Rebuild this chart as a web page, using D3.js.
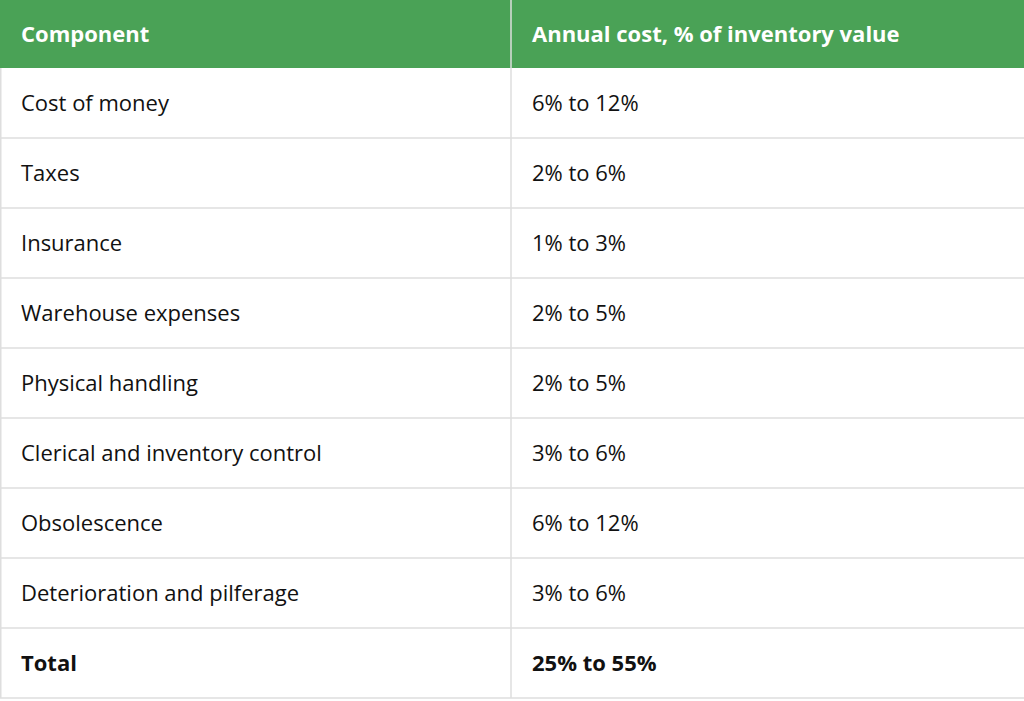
<!DOCTYPE html>
<html>
<head>
<script src="https://d3js.org/d3.v7.min.js"></script>
<style>
  body { margin: 0; background: #fff; }
  text { font-family: "Open Sans", sans-serif; font-size: 22px; fill: #111; }
</style>
</head>
<body>
<svg width="1024" height="701"></svg>
<script>
var headers = ["Component", "Annual cost, % of inventory value"];
var components = ["Cost of money", "Taxes", "Insurance", "Warehouse expenses", "Physical handling",
  "Clerical and inventory control", "Obsolescence", "Deterioration and pilferage", "Total"];
var costs = ["6% to 12%", "2% to 6%", "1% to 3%", "2% to 5%", "2% to 5%",
  "3% to 6%", "6% to 12%", "3% to 6%", "25% to 55%"];

var svg = d3.select("svg"),
  width = 1024, headH = 68, rowH = 70;

var x = d3.scaleOrdinal().domain([0, 1]).range([0, 511]);
var y = d3.scaleLinear().domain([0, 1]).range([headH, headH + rowH]);

svg.append("rect").attr("x", 0).attr("y", 0).attr("width", width).attr("height", headH)
  .attr("fill", "#4aa256");

svg.selectAll(".head").data(headers).enter().append("text")
  .attr("x", function(d, i) { return x(i) + 21; })
  .attr("y", headH / 2 + 8)
  .style("fill", "#fff").style("font-weight", "bold")
  .text(function(d) { return d; });

var rows = svg.selectAll(".row").data(components).enter().append("g")
  .attr("transform", function(d, i) { return "translate(0," + y(i) + ")"; });

rows.append("line").attr("x1", 0).attr("x2", width).attr("y1", rowH).attr("y2", rowH)
  .attr("stroke", "#dedede").attr("stroke-width", 1.5);

rows.append("text").attr("x", 21).attr("y", rowH / 2 + 8)
  .style("font-weight", function(d, i) { return i === components.length - 1 ? "bold" : null; })
  .text(function(d) { return d; });

rows.append("text").attr("x", x(1) + 21).attr("y", rowH / 2 + 8)
  .style("font-weight", function(d, i) { return i === components.length - 1 ? "bold" : null; })
  .text(function(d, i) { return costs[i]; });

// outer and column borders
svg.append("line").attr("x1", x(1)).attr("x2", x(1)).attr("y1", 0).attr("y2", headH + rowH * components.length)
  .attr("stroke", "#dedede").attr("stroke-width", 1.5);
svg.append("line").attr("x1", 0.75).attr("x2", 0.75).attr("y1", headH).attr("y2", headH + rowH * components.length)
  .attr("stroke", "#dedede").attr("stroke-width", 1.5);
</script>
</body>
</html>
